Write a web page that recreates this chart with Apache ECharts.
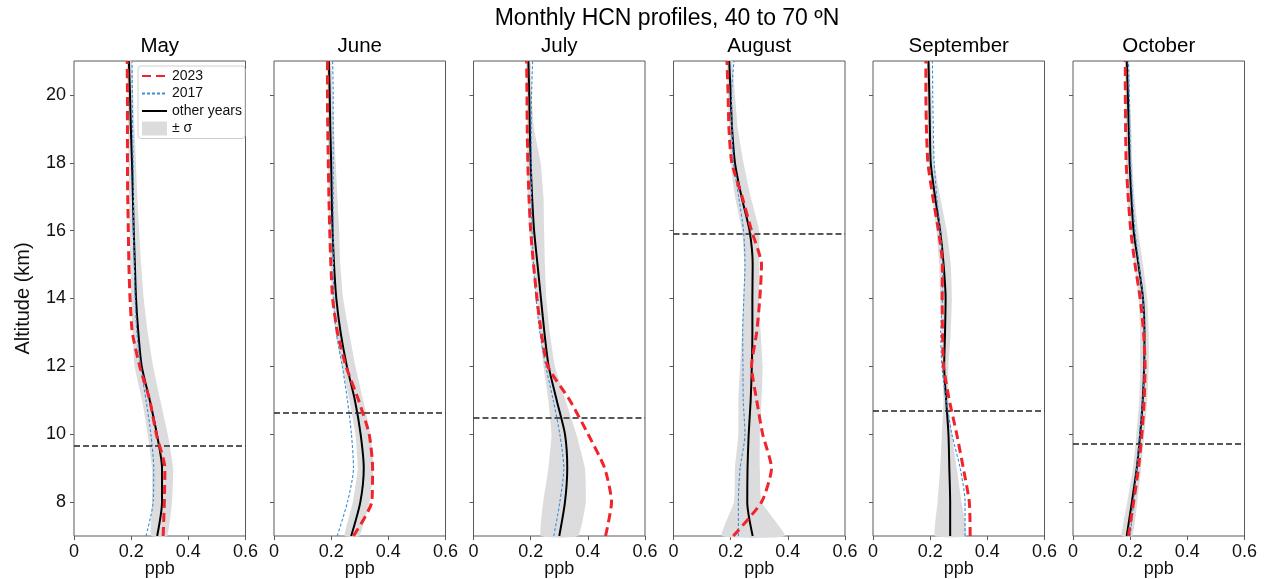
<!DOCTYPE html>
<html>
<head>
<meta charset="utf-8">
<script src="https://cdn.jsdelivr.net/npm/echarts@6/dist/echarts.min.js"></script>
<style>
html,body{margin:0;padding:0;background:#fff;}
#chart{width:1266px;height:579px;}
</style>
</head>
<body>
<div id="chart"></div>
<script>
// ---------------- DATA ----------------
const TITLE = 'Monthly HCN profiles, 40 to 70 ºN';
const MONTHS = ['May', 'June', 'July', 'August', 'September', 'October'];
const ALT = [7, 8, 9, 10, 11, 12, 13, 14, 15, 16, 17, 18, 19, 20, 21];
const X_TICKS = [0, 0.2, 0.4, 0.6];
const Y_TICKS = [8, 10, 12, 14, 16, 18, 20];
const SERIES_NAMES = ['2023', '2017', 'other years', '± σ'];

// Tropopause altitude (km) per month
const TROPOPAUSE = [9.65, 10.62, 10.48, 15.9, 10.69, 9.72];

// 2023 profiles (ppb), at ALT levels
const Y2023_MAY = [0.312, 0.316, 0.318, 0.288, 0.265, 0.230, 0.204, 0.196, 0.192, 0.190, 0.188, 0.187, 0.187, 0.187, 0.186];
const Y2023_JUN = [0.278, 0.342, 0.345, 0.333, 0.296, 0.252, 0.222, 0.205, 0.199, 0.195, 0.192, 0.190, 0.188, 0.187, 0.187];
const Y2023_JUL = [0.462, 0.483, 0.459, 0.401, 0.337, 0.260, 0.237, 0.222, 0.210, 0.200, 0.194, 0.190, 0.188, 0.187, 0.186];
const Y2023_AUG = [0.209, 0.308, 0.343, 0.312, 0.291, 0.273, 0.291, 0.302, 0.308, 0.273, 0.240, 0.204, 0.194, 0.191, 0.187];
const Y2023_SEP = [0.340, 0.337, 0.316, 0.293, 0.267, 0.247, 0.243, 0.242, 0.243, 0.229, 0.209, 0.192, 0.187, 0.185, 0.185];
const Y2023_OCT = [0.194, 0.212, 0.229, 0.241, 0.249, 0.252, 0.247, 0.235, 0.217, 0.202, 0.193, 0.186, 0.184, 0.183, 0.183];

// 2017 profiles (ppb)
const Y2017_MAY = [0.252, 0.277, 0.279, 0.269, 0.252, 0.233, 0.220, 0.214, 0.211, 0.209, 0.208, 0.207, 0.205, 0.204, 0.203];
const Y2017_JUN = [0.221, 0.257, 0.278, 0.271, 0.257, 0.239, 0.218, 0.209, 0.208, 0.207, 0.207, 0.207, 0.207, 0.207, 0.205];
const Y2017_JUL = [0.281, 0.302, 0.316, 0.302, 0.279, 0.253, 0.232, 0.219, 0.210, 0.205, 0.203, 0.202, 0.202, 0.203, 0.207];
const Y2017_AUG = [0.227, 0.227, 0.233, 0.250, 0.244, 0.243, 0.242, 0.246, 0.250, 0.245, 0.228, 0.210, 0.205, 0.203, 0.212];
const Y2017_SEP = [0.322, 0.322, 0.305, 0.276, 0.256, 0.241, 0.237, 0.243, 0.244, 0.235, 0.223, 0.214, 0.211, 0.209, 0.208];
const Y2017_OCT = [0.200, 0.212, 0.223, 0.233, 0.244, 0.249, 0.249, 0.245, 0.231, 0.217, 0.208, 0.202, 0.199, 0.197, 0.194];

// Other years mean profiles (ppb)
const OTHER_MAY = [0.291, 0.308, 0.308, 0.290, 0.265, 0.237, 0.225, 0.217, 0.213, 0.209, 0.206, 0.203, 0.199, 0.196, 0.192];
const OTHER_JUN = [0.270, 0.302, 0.314, 0.303, 0.283, 0.255, 0.233, 0.218, 0.210, 0.205, 0.202, 0.200, 0.197, 0.195, 0.192];
const OTHER_JUL = [0.300, 0.320, 0.328, 0.320, 0.291, 0.263, 0.248, 0.236, 0.224, 0.212, 0.205, 0.200, 0.197, 0.195, 0.192];
const OTHER_AUG = [0.277, 0.258, 0.259, 0.263, 0.270, 0.274, 0.276, 0.276, 0.277, 0.266, 0.238, 0.215, 0.205, 0.200, 0.195];
const OTHER_SEP = [0.270, 0.270, 0.267, 0.264, 0.256, 0.249, 0.252, 0.254, 0.247, 0.235, 0.217, 0.202, 0.199, 0.197, 0.194];
const OTHER_OCT = [0.188, 0.206, 0.223, 0.235, 0.244, 0.249, 0.250, 0.245, 0.229, 0.212, 0.204, 0.198, 0.195, 0.192, 0.188];

// Other years ± sigma (lower / upper bounds, ppb)
const LO_MAY = [0.270, 0.273, 0.273, 0.258, 0.238, 0.212, 0.205, 0.200, 0.197, 0.195, 0.193, 0.191, 0.190, 0.188, 0.186];
const HI_MAY = [0.326, 0.343, 0.347, 0.328, 0.302, 0.277, 0.258, 0.244, 0.235, 0.228, 0.222, 0.217, 0.212, 0.207, 0.203];
const LO_JUN = [0.247, 0.276, 0.293, 0.285, 0.264, 0.238, 0.215, 0.204, 0.198, 0.193, 0.191, 0.190, 0.189, 0.188, 0.187];
const HI_JUN = [0.299, 0.334, 0.348, 0.338, 0.312, 0.285, 0.263, 0.242, 0.232, 0.228, 0.222, 0.216, 0.210, 0.205, 0.200];
const LO_JUL = [0.236, 0.244, 0.262, 0.273, 0.262, 0.245, 0.232, 0.222, 0.205, 0.195, 0.190, 0.188, 0.187, 0.186, 0.185];
const HI_JUL = [0.366, 0.393, 0.390, 0.360, 0.322, 0.285, 0.267, 0.255, 0.250, 0.247, 0.245, 0.235, 0.212, 0.204, 0.200];
const LO_AUG = [0.169, 0.212, 0.215, 0.227, 0.227, 0.233, 0.240, 0.245, 0.248, 0.240, 0.215, 0.200, 0.195, 0.190, 0.188];
const HI_AUG = [0.390, 0.308, 0.302, 0.302, 0.308, 0.312, 0.305, 0.300, 0.300, 0.300, 0.270, 0.245, 0.225, 0.215, 0.205];
const LO_SEP = [0.217, 0.226, 0.235, 0.241, 0.247, 0.241, 0.241, 0.235, 0.232, 0.222, 0.207, 0.195, 0.192, 0.190, 0.189];
const HI_SEP = [0.326, 0.310, 0.293, 0.276, 0.264, 0.264, 0.272, 0.276, 0.272, 0.258, 0.235, 0.215, 0.208, 0.205, 0.200];
const LO_OCT = [0.170, 0.190, 0.210, 0.222, 0.232, 0.235, 0.235, 0.230, 0.215, 0.200, 0.190, 0.186, 0.184, 0.183, 0.182];
const HI_OCT = [0.208, 0.225, 0.238, 0.250, 0.260, 0.265, 0.265, 0.260, 0.245, 0.228, 0.215, 0.208, 0.204, 0.200, 0.196];

const Y2023 = [Y2023_MAY, Y2023_JUN, Y2023_JUL, Y2023_AUG, Y2023_SEP, Y2023_OCT];
const Y2017 = [Y2017_MAY, Y2017_JUN, Y2017_JUL, Y2017_AUG, Y2017_SEP, Y2017_OCT];
const OTHER = [OTHER_MAY, OTHER_JUN, OTHER_JUL, OTHER_AUG, OTHER_SEP, OTHER_OCT];
const LO = [LO_MAY, LO_JUN, LO_JUL, LO_AUG, LO_SEP, LO_OCT];
const HI = [HI_MAY, HI_JUN, HI_JUL, HI_AUG, HI_SEP, HI_OCT];

// ---------------- LAYOUT / STYLE ----------------
const FONT = '"Liberation Sans", Arial, Helvetica, sans-serif';
const PANEL_LEFT = [74, 274, 473.5, 673.5, 873, 1073];
const PANEL_W = 171.5;
const PANEL_TOP = 61;
const PANEL_H = 475;
const RED = '#f0242a';
const BLUE = '#3a8ed6';
const BAND = '#dcdcde';
const FRAME = '#5a5a5a';

const pairs = (xs) => xs.map((v, k) => [v, ALT[k]]);

const grids = [], xAxes = [], yAxes = [], series = [], graphics = [];

graphics.push({
  type: 'text', x: 667, y: 19,
  style: { text: TITLE, font: '23px ' + FONT, fill: '#000', textAlign: 'center', textVerticalAlign: 'middle' }
});

MONTHS.forEach((m, i) => {
  grids.push({
    left: PANEL_LEFT[i], top: PANEL_TOP, width: PANEL_W, height: PANEL_H,
    outerBoundsMode: 'none', containLabel: false,
    show: true, borderColor: FRAME, borderWidth: 1, backgroundColor: 'transparent'
  });
  graphics.push({
    type: 'text', x: PANEL_LEFT[i] + PANEL_W / 2, y: 46.5,
    style: { text: m, font: '20.5px ' + FONT, fill: '#000', textAlign: 'center', textVerticalAlign: 'middle' }
  });
  xAxes.push({
    type: 'value', gridIndex: i, min: 0, max: 0.6, interval: 0.2,
    axisLine: { show: false },
    axisTick: { show: true, inside: false, length: 4, lineStyle: { color: FRAME, width: 1 } },
    axisLabel: {
      show: true, fontSize: 18, color: '#111', fontFamily: FONT, margin: 7,
      customValues: X_TICKS,
      formatter: (v) => (v === 0 ? '0' : v.toFixed(1))
    },
    splitLine: { show: false },
    name: 'ppb', nameLocation: 'middle', nameGap: 24, nameMoveOverlap: false,
    nameTextStyle: { fontSize: 18, color: '#111', fontFamily: FONT }
  });
  yAxes.push({
    type: 'value', gridIndex: i, min: 7, max: 21,
    axisLine: { show: false },
    axisTick: { show: true, inside: false, length: 4, customValues: Y_TICKS, lineStyle: { color: FRAME, width: 1 } },
    axisLabel: {
      show: i === 0, fontSize: 18, color: '#111', fontFamily: FONT, margin: 8,
      customValues: Y_TICKS
    },
    splitLine: { show: false },
    name: i === 0 ? 'Altitude (km)' : '',
    nameLocation: 'middle', nameGap: 41,
    nameTextStyle: { fontSize: 20, color: '#111', fontFamily: FONT }
  });

  const lo = LO[i], hi = HI[i];
  series.push({
    name: '± σ', type: 'custom', xAxisIndex: i, yAxisIndex: i, z: 1,
    itemStyle: { color: BAND },
    data: [[lo[0], ALT[0]]],
    renderItem: (params, api) => {
      const pts = [];
      for (let k = 0; k < ALT.length; k++) pts.push(api.coord([lo[k], ALT[k]]));
      for (let k = ALT.length - 1; k >= 0; k--) pts.push(api.coord([hi[k], ALT[k]]));
      return { type: 'polygon', shape: { points: pts, smooth: 0.12 }, style: { fill: BAND } };
    },
    silent: true
  });
  series.push({
    name: 'other years', type: 'line', xAxisIndex: i, yAxisIndex: i, z: 3,
    data: pairs(OTHER[i]), symbol: 'none', smooth: 0.25,
    lineStyle: { color: '#000', width: 2 }, itemStyle: { color: '#000' },
    markLine: {
      silent: true, symbol: ['none', 'none'], label: { show: false },
      lineStyle: { color: '#222', type: [6, 3], width: 1.5 },
      data: [{ yAxis: TROPOPAUSE[i] }],
      animation: false
    }
  });
  series.push({
    name: '2017', type: 'line', xAxisIndex: i, yAxisIndex: i, z: 4,
    data: pairs(Y2017[i]), symbol: 'none', smooth: 0.25,
    lineStyle: { color: BLUE, width: 1.1, type: [3, 2] }, itemStyle: { color: BLUE }
  });
  series.push({
    name: '2023', type: 'line', xAxisIndex: i, yAxisIndex: i, z: 5,
    data: pairs(Y2023[i]), symbol: 'none', smooth: 0.2,
    lineStyle: { color: RED, width: 3, type: [9, 5] }, itemStyle: { color: RED }
  });
});

const chart = echarts.init(document.getElementById('chart'), null, { renderer: 'canvas' });
chart.setOption({
  animation: false,
  backgroundColor: '#fff',
  textStyle: { fontFamily: FONT },
  grid: grids,
  xAxis: xAxes,
  yAxis: yAxes,
  legend: {
    left: 138, top: 66, orient: 'vertical',
    backgroundColor: '#fff', borderColor: '#cfcfcf', borderWidth: 1, borderRadius: 3,
    padding: [3, 3, 3, 3], itemGap: 3.5, itemWidth: 25, itemHeight: 14,
    textStyle: { fontSize: 14, color: '#111', fontFamily: FONT },
    selectedMode: false,
    data: [
      { name: '2023', itemStyle: { opacity: 0 } },
      { name: '2017', itemStyle: { opacity: 0 } },
      { name: 'other years', itemStyle: { opacity: 0 } },
      { name: '± σ', icon: 'rect', itemStyle: { color: BAND, opacity: 1 } }
    ]
  },
  graphic: graphics,
  series: series
});
</script>
</body>
</html>
